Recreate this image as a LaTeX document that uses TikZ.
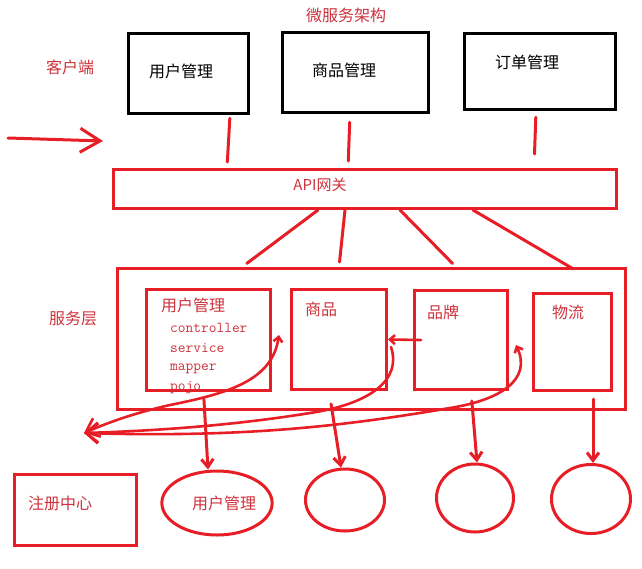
\documentclass[tikz,border=0pt]{standalone}
\usepackage{fontspec}
\setmainfont{Noto Sans CJK SC}
\usetikzlibrary{arrows.meta,shapes.geometric}
\definecolor{penred}{RGB}{232,30,38}
\definecolor{inkred}{RGB}{205,50,60}

\begin{document}
\begin{tikzpicture}[x=1pt, y=-1pt,
    client/.style={draw=black, line width=3.5pt, inner sep=0pt},
    svc/.style={draw=penred, line width=3pt, inner sep=0pt},
    regnode/.style={ellipse, draw=penred, line width=3pt, inner sep=0pt, text=inkred, font=\fontsize{16}{18}\selectfont},
    lbl/.style={text=inkred, font=\fontsize{16}{18}\selectfont, inner sep=0pt},
    blk/.style={text=black, font=\fontsize{16}{18}\selectfont, inner sep=0pt},
    code/.style={text=inkred, font=\ttfamily\fontsize{15}{15}\selectfont, inner sep=0pt, anchor=west},
    pen/.style={penred, line width=3pt, line cap=round},
    barb/.style={-{Straight Barb[length=8pt, width=12pt]}}]
    \useasboundingbox (0,0) rectangle (642,568);

    % client side
    \node [lbl] (title) at (346,15) {微服务架构};
    \node [lbl] (clientLbl) at (70,67) {客户端};
    \node [client, minimum width=120, minimum height=80] (cUser) at (188.5,73.5) {};
    \node [client, minimum width=146, minimum height=80] (cGoods) at (355.5,72.5) {};
    \node [client, minimum width=151, minimum height=76] (cOrder) at (540,71.5) {};
    \node [blk] (cUserTxt) at (181,71) {用户管理};
    \node [blk] (cGoodsTxt) at (344,70) {商品管理};
    \node [blk] (cOrderTxt) at (527,62) {订单管理};

    \coordinate (penTail) at (8,138);
    \coordinate (penTip) at (103,141);
    \draw [pen, -{Straight Barb[length=20pt, width=24pt]}] (penTail) -- (penTip);

    % gateway
    \node [svc, minimum width=503, minimum height=39] (api) at (365,189) {};
    \node [lbl, font=\fontsize{15}{18}\selectfont] (apiTxt) at (320,185) {API网关};

    \begin{scope}[pen]
        \draw [shorten <=3, shorten >=6] ([xshift=41.5]cUser.south) -- ([xshift=-138]api.north);
        \draw [shorten <=8, shorten >=7] ([xshift=-5.5]cGoods.south) -- ([xshift=-17]api.north);
        \draw [shorten <=6, shorten >=14] ([xshift=-4]cOrder.south) -- ([xshift=169]api.north);
    \end{scope}

    % service layer
    \node [lbl] (svcLbl) at (73,318) {服务层};
    \node [svc, minimum width=508, minimum height=141] (svcLayer) at (371.5,339) {};

    \begin{scope}[pen]
        \draw [shorten >=6] ([xshift=-47]api.south) -- ([xshift=-129.5]svcLayer.north);
        \draw [shorten >=5] ([xshift=-20]api.south) -- ([xshift=-32.5]svcLayer.north);
        \draw [shorten >=5] ([xshift=35]api.south) -- ([xshift=84.5]svcLayer.north);
        \draw [shorten >=-4] ([xshift=108]api.south) -- ([xshift=198.5]svcLayer.north);
    \end{scope}

    \node [svc, minimum width=124, minimum height=101] (sUser) at (208.5,340) {};
    \node [svc, minimum width=95, minimum height=100] (sGoods) at (339,339.5) {};
    \node [svc, minimum width=93, minimum height=99] (sBrand) at (461,340) {};
    \node [svc, minimum width=78, minimum height=97] (sShip) at (572.5,342) {};

    \node [lbl] (sUserTxt) at (193,305) {用户管理};
    \node [code] (ctrl) at (170,328) {controller};
    \node [code] (serv) at (170,348) {service};
    \node [code] (mapr) at (170,369) {mapper};
    \node [code] (pojo) at (170,388) {pojo};
    \node [lbl] (sGoodsTxt) at (321,309) {商品};
    \node [lbl] (sBrandTxt) at (443,312) {品牌};
    \node [lbl] (sShipTxt) at (568,312) {物流};

    % registry
    \node [svc, minimum width=122, minimum height=71] (registry) at (75.5,510) {};
    \node [lbl] (registryTxt) at (60,503) {注册中心};

    \node [regnode, minimum width=97, minimum height=64] (reg1) at (217,503) {\hspace{14pt}用户管理};
    \node [regnode, minimum width=79, minimum height=62] (reg2) at (345,500) {};
    \node [regnode, minimum width=77, minimum height=68] (reg3) at (475,498) {};
    \node [regnode, minimum width=79, minimum height=69] (reg4) at (591,499) {};

    \begin{scope}[pen, barb]
        \draw [shorten <=7] ([xshift=-5]sUser.south) -- ([xshift=-9]reg1.north);
        \draw [shorten <=13] ([xshift=-10]sGoods.south) -- ([xshift=-4]reg2.north);
        \draw [shorten <=10] ([xshift=10]sBrand.south) -- ([xshift=2]reg3.north);
        \draw [shorten <=7] ([xshift=20.5]sShip.south) -- ([xshift=2]reg4.north);
    \end{scope}

    % register calls
    \coordinate (hub) at (84,433);
    \coordinate (gap1) at (279,335);
    \coordinate (gap2) at (391,347);
    \coordinate (gap3) at (516,345);
    \begin{scope}[pen, line width=2.6pt]
        \draw [{Straight Barb[length=5pt, width=9pt]}-{Straight Barb[length=12pt, width=20pt]}]
            (gap1) .. controls (272,380) and (230,393) .. (170,405) .. controls (130,414) and (105,424) .. (hub);
        \draw [-{Straight Barb[length=12pt, width=20pt]}]
            (gap2) .. controls (402,380) and (370,404) .. (310,413) .. controls (230,426) and (150,431) .. (hub);
        \draw [{Straight Barb[length=5pt, width=9pt]}-{Straight Barb[length=12pt, width=20pt]}]
            (gap3) .. controls (532,380) and (500,400) .. (450,408) .. controls (350,425) and (250,438) .. (hub);
        \draw [-{Straight Barb[length=5pt, width=9pt]}] ([xshift=8]sBrand.west) -- (sGoods.east);
    \end{scope}
\end{tikzpicture}
\end{document}
